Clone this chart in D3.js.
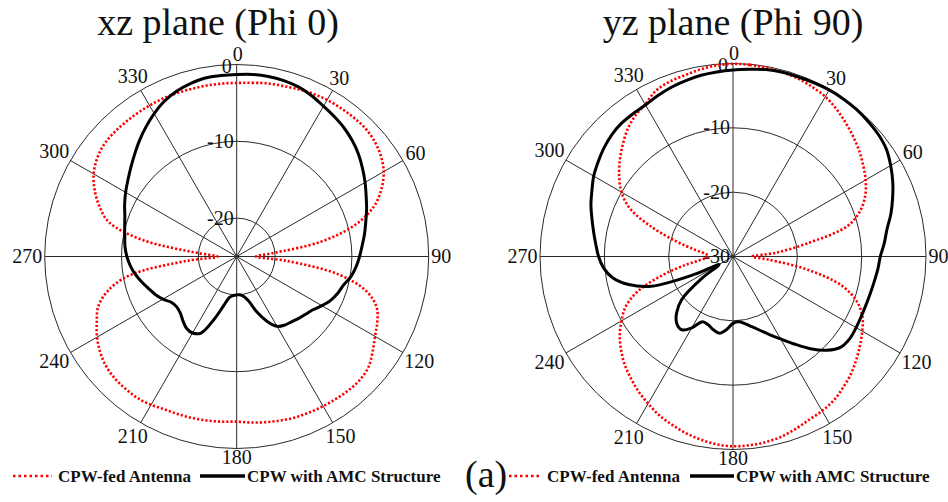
<!DOCTYPE html>
<html>
<head>
<meta charset="utf-8">
<script src="https://cdn.jsdelivr.net/npm/d3@7"></script>
<style>
  body { margin: 0; background: #fff; }
  svg, svg text { font-family: "Liberation Serif", "DejaVu Serif", "Times New Roman", serif; }
</style>
</head>
<body>
<svg id="chart" width="948" height="502" font-family="Liberation Serif, DejaVu Serif, serif"></svg>
<script>
// Radiation patterns (dB) sampled every 5 degrees, 0 = boresight, clockwise.
const angles = d3.range(0, 360, 5);
const spokeAngles = d3.range(0, 360, 30);

// xz plane (Phi 0)
const xzCpw = [
  -2.4, -2.3, -2.1, -2.0, -1.8, -1.6, -1.45, -1.4, -1.35, -1.35, -1.6, -2.1, -2.9, -4.2, -6.0, -9.0, -13.8, -20.5,
  -22.5, -18.5, -11.5, -7.5, -5.6, -4.8, -4.2, -3.4, -2.6, -2.3, -2.3, -2.4, -2.5, -2.6, -2.7, -2.9, -3.1, -3.3,
  -3.5, -3.4, -3.3, -3.2, -3.1, -3.0, -2.7, -2.5, -2.5, -2.55, -2.8, -3.3, -4.0, -4.9, -5.8, -7.6, -10.8, -18.5,
  -22.5, -20.0, -12.5, -7.8, -6.0, -4.6, -3.5, -2.8, -2.4, -2.3, -2.3, -2.3, -2.3, -2.3, -2.35, -2.4, -2.4, -2.4
];
const xzAmc = [
  -1.3, -1.2, -1.2, -1.3, -1.5, -1.9, -2.4, -2.8, -3.2, -3.7, -4.3, -5.0, -5.7, -6.4, -7.0, -7.6, -8.1, -8.6,
  -9.0, -9.4, -9.9, -10.6, -11.0, -11.5, -12.2, -12.9, -13.3, -13.6, -13.9, -14.1, -14.5, -15.7, -17.3, -19.0, -19.7, -20.0,
  -20.0, -19.9, -19.6, -18.3, -16.2, -14.0, -13.5, -13.6, -14.1, -14.6, -14.8, -14.6, -13.9, -13.3, -12.8, -12.2, -11.6, -11.1,
  -10.7, -10.4, -10.2, -9.9, -9.5, -8.9, -8.3, -7.7, -7.0, -6.2, -5.3, -4.4, -3.5, -2.7, -2.1, -1.7, -1.4, -1.35
];

// yz plane (Phi 90)
const yzCpw = [
  -0.05, -0.1, -0.2, -0.35, -0.55, -0.9, -1.3, -2.0, -2.8, -3.6, -4.4, -5.3, -6.2, -7.3, -8.9, -11.5, -18.3, -23.3,
  -27.0, -24.5, -18.2, -12.5, -9.5, -7.8, -6.8, -5.9, -5.0, -4.1, -3.4, -2.7, -2.3, -2.0, -1.5, -1.0, -0.7, -0.55,
  -0.5, -0.7, -1.1, -1.6, -2.2, -2.8, -3.6, -4.4, -5.3, -6.2, -7.3, -8.5, -10.0, -11.6, -14.3, -18.5, -22.5, -25.3,
  -26.2, -25.8, -24.0, -20.8, -16.5, -12.3, -10.0, -8.4, -7.0, -5.7, -4.4, -3.4, -2.7, -1.6, -1.1, -0.85, -0.5, -0.2
];
const yzAmc = [
  -1.0, -0.8, -0.5, -0.35, -0.3, -0.2, -0.1, -0.1, -0.15, -0.3, -0.5, -0.9, -1.7, -2.6, -3.6, -4.6, -5.7, -6.4,
  -7.1, -7.4, -7.7, -7.9, -8.0, -8.0, -7.9, -7.8, -8.1, -9.4, -11.3, -13.4, -15.2, -16.6, -17.8, -18.7, -19.4, -19.8,
  -19.6, -18.6, -17.9, -18.2, -18.7, -18.8, -17.2, -16.1, -16.4, -17.6, -19.6, -24.2, -27.5, -23.5, -16.5, -13.2, -11.0, -9.8,
  -9.1, -8.6, -8.0, -7.3, -6.5, -5.8, -5.0, -4.4, -3.8, -3.3, -3.0, -2.9, -2.8, -2.4, -2.0, -1.7, -1.4, -1.2
];

const xzRingTicks = [0, -10, -20];
const yzRingTicks = [0, -10, -20, -30];
const planeTitles = ["xz plane (Phi 0)", "yz plane (Phi 90)"];
const seriesNames = ["CPW-fed Antenna", "CPW with AMC Structure"];
const figureTag = "(a)";

const serif = "Liberation Serif, DejaVu Serif, serif";
const svg = d3.select("#chart");
const rad = d => d * Math.PI / 180;

const panels = [
  { cx: 236.7, cy: 256.5, R: 192, domain: [-25, 0], ticks: xzRingTicks, title: planeTitles[0], titleX: 218,
    cpw: xzCpw, amc: xzAmc },
  { cx: 733, cy: 256.5, R: 193, domain: [-30, 0], ticks: yzRingTicks, title: planeTitles[1], titleX: 733,
    cpw: yzCpw, amc: yzAmc }
];

const labelSize = 20;

panels.forEach(p => {
  const r = d3.scaleLinear().domain(p.domain).range([0, p.R]).clamp(true);
  const g = svg.append("g").attr("transform", `translate(${p.cx},${p.cy})`);

  // rings (skip the one collapsed onto the centre)
  g.selectAll("circle.ring")
    .data(p.ticks.filter(t => r(t) > 0))
    .join("circle")
    .attr("class", "ring")
    .attr("r", d => r(d))
    .attr("fill", "none")
    .attr("stroke", "#2a2a2a")
    .attr("stroke-width", 1);

  // spokes every 30 degrees
  g.selectAll("line.spoke")
    .data(spokeAngles)
    .join("line")
    .attr("class", "spoke")
    .attr("x1", 0).attr("y1", 0)
    .attr("x2", d => p.R * Math.sin(rad(d)))
    .attr("y2", d => -p.R * Math.cos(rad(d)))
    .attr("stroke", "#2a2a2a")
    .attr("stroke-width", 1);

  // angle labels, centred just outside the rim
  g.selectAll("text.ang")
    .data(spokeAngles)
    .join("text")
    .attr("class", "ang")
    .attr("font-family", serif)
    .attr("font-size", labelSize)
    .attr("text-anchor", "middle")
    .attr("fill", "#111")
    .text(d => d)
    .each(function (d) {
      const s = Math.sin(rad(d)), c = Math.cos(rad(d));
      const w = String(d).length * 0.5 * labelSize;
      const h = 0.66 * labelSize;
      const dist = p.R + 2.5 + Math.abs(s) * w / 2 + Math.abs(c) * h / 2 + (d === 0 ? 1 : 0);
      d3.select(this)
        .attr("x", dist * s + (d === 0 ? 1 : 0))
        .attr("y", -dist * c + h / 2);
    });

  // radial dB labels along the 0 degree spoke
  g.selectAll("text.db")
    .data(p.ticks)
    .join("text")
    .attr("class", "db")
    .attr("font-family", serif)
    .attr("font-size", labelSize)
    .attr("text-anchor", "end")
    .attr("fill", "#111")
    .attr("x", d => d === 0 ? -5 : -3)
    .attr("y", d => -r(d) + 0.33 * labelSize + (d === 0 ? 2 : 0))
    .text(d => d);

  const line = d3.lineRadial()
    .angle((d, i) => rad(angles[i]))
    .radius(d => r(d))
    .curve(d3.curveCatmullRomClosed.alpha(0.5));

  g.append("path")
    .datum(p.cpw)
    .attr("d", line)
    .attr("fill", "none")
    .attr("stroke", "#ff0000")
    .attr("stroke-width", 2.6)
    .attr("stroke-dasharray", "2.2,2");

  g.append("path")
    .datum(p.amc)
    .attr("d", line)
    .attr("fill", "none")
    .attr("stroke", "#000")
    .attr("stroke-width", 3)
    .attr("stroke-linejoin", "round");

  svg.append("text")
    .attr("x", p.titleX)
    .attr("y", 35)
    .attr("text-anchor", "middle")
    .attr("font-family", serif)
    .attr("font-size", 38)
    .attr("fill", "#111")
    .text(p.title);
});

// legends under each panel
const legendY = 476;
const legends = [
  { redX: [13, 52], t1: 58, blackX: [200, 245], t2: 247 },
  { redX: [509, 541], t1: 547, blackX: [690, 734], t2: 736 }
];
legends.forEach(l => {
  svg.append("line")
    .attr("x1", l.redX[0]).attr("x2", l.redX[1])
    .attr("y1", legendY).attr("y2", legendY)
    .attr("stroke", "#ff0000").attr("stroke-width", 2.6)
    .attr("stroke-dasharray", "2.5,3");
  svg.append("text")
    .attr("x", l.t1).attr("y", legendY + 6)
    .attr("font-family", serif)
    .attr("font-size", 17).attr("font-weight", "bold").attr("fill", "#111")
    .text(seriesNames[0]);
  svg.append("line")
    .attr("x1", l.blackX[0]).attr("x2", l.blackX[1])
    .attr("y1", legendY).attr("y2", legendY)
    .attr("stroke", "#000").attr("stroke-width", 3.5);
  svg.append("text")
    .attr("x", l.t2).attr("y", legendY + 6)
    .attr("font-family", serif)
    .attr("font-size", 17).attr("font-weight", "bold").attr("fill", "#111")
    .text(seriesNames[1]);
});

svg.append("text")
  .attr("x", 465).attr("y", 487)
  .attr("font-family", serif)
  .attr("font-size", 38).attr("fill", "#111")
  .text(figureTag);
</script>
</body>
</html>
